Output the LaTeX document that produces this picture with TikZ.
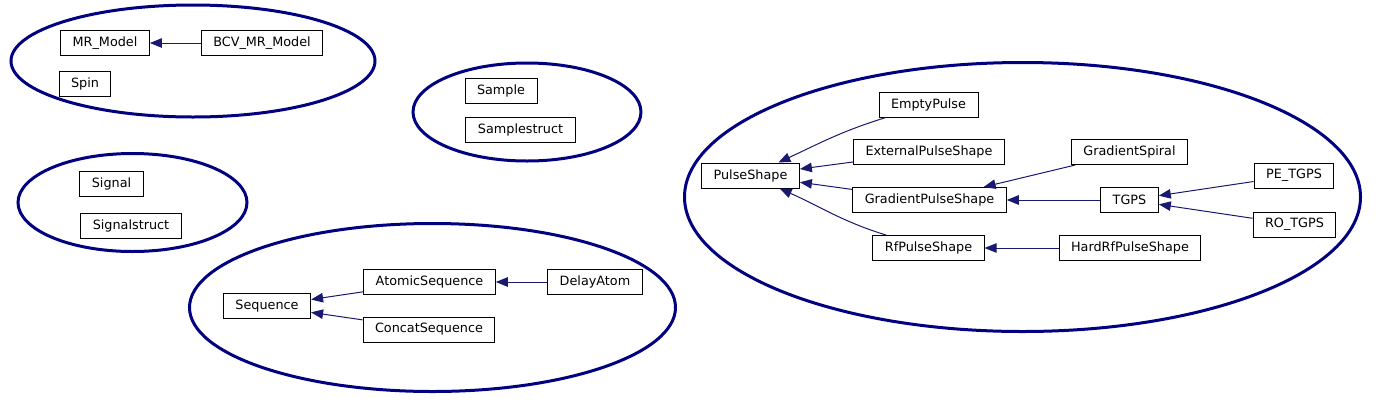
\documentclass[tikz,border=0pt]{standalone}
\usepackage{fontspec}
\setmainfont{DejaVu Sans}
\usepackage{tikz}
\usetikzlibrary{positioning}
\usetikzlibrary{arrows.meta}
\usetikzlibrary{shapes.geometric}
\definecolor{ringblue}{rgb}{0.0, 0.0, 0.5}
\definecolor{edgeblue}{rgb}{0.1, 0.1, 0.44}
\tikzset{%
  classbox/.style={rectangle,draw=black,fill=white,line width=1pt,minimum height=25pt,inner xsep=12pt,font=\fontsize{12.8}{15}\selectfont}
}
\tikzset{%
  groupring/.style={ellipse,draw=ringblue,line width=3pt,inner sep=0pt}
}
\tikzset{%
  inherit/.style={draw=edgeblue,line width=1pt,-{Triangle[length=12pt,width=9.5pt]}}
}

\begin{document}
\begin{tikzpicture}[x=1pt,y=-1pt]
        \useasboundingbox (0,0) rectangle (1400,400);

        \node[groupring,minimum width=364pt,minimum height=112pt](ringmodel) at (193,61){};
        \node[groupring,minimum width=229pt,minimum height=98pt](ringsignal) at (132.5,202.5){};
        \node[groupring,minimum width=228pt,minimum height=98pt](ringsample) at (527,112){};
        \node[groupring,minimum width=486pt,minimum height=168pt](ringseq) at (432.5,307.5){};
        \node[groupring,minimum width=676pt,minimum height=269pt](ringpulse) at (1022.5,197){};

        \node[classbox](mrmodel) at (105,43){MR\_Model};
        \node[classbox](bcvmodel) at (262,43){BCV\_MR\_Model};
        \node[classbox](spin) at (85,84){Spin};
        \draw[inherit] (bcvmodel) -- (mrmodel);

        \node[classbox](signal) at (111.5,183.5){Signal};
        \node[classbox](signalstruct) at (131,225.5){Signalstruct};

        \node[classbox](sample) at (501,90.5){Sample};
        \node[classbox](samplestruct) at (520.5,129.5){Samplestruct};

        \node[classbox](sequence) at (267,306){Sequence};
        \node[classbox](atomicseq) at (429.5,282){AtomicSequence};
        \node[classbox](delayatom) at (595,282){DelayAtom};
        \node[classbox](concatseq) at (429,329.5){ConcatSequence};
        \draw[inherit] (atomicseq) -- (sequence);
        \draw[inherit] (concatseq) -- (sequence);
        \draw[inherit] (delayatom) -- (atomicseq);

        \node[classbox](pulseshape) at (750.5,175.5){PulseShape};
        \node[classbox](emptypulse) at (928.5,104.5){EmptyPulse};
        \node[classbox](externalps) at (929,152){ExternalPulseShape};
        \node[classbox](gradientps) at (929.5,200){GradientPulseShape};
        \node[classbox](rfps) at (928.5,248){RfPulseShape};
        \node[classbox](gradspiral) at (1129.5,152){GradientSpiral};
        \node[classbox](tgps) at (1129.5,200){TGPS};
        \node[classbox](petgps) at (1294,175.5){PE\_TGPS};
        \node[classbox](rotgps) at (1294.5,224.5){RO\_TGPS};
        \node[classbox](hardrfps) at (1130,248){HardRfPulseShape};
        \draw[inherit] (emptypulse) to[out=197,in=25] (pulseshape);
        \draw[inherit] (externalps) -- (pulseshape);
        \draw[inherit] (gradientps) -- (pulseshape);
        \draw[inherit] (rfps) to[out=163,in=336] (pulseshape);
        \draw[inherit] (gradspiral) -- (gradientps);
        \draw[inherit] (tgps) -- (gradientps);
        \draw[inherit] (petgps) -- (tgps);
        \draw[inherit] (rotgps) -- (tgps);
        \draw[inherit] (hardrfps) -- (rfps);
      \end{tikzpicture}
\end{document}
